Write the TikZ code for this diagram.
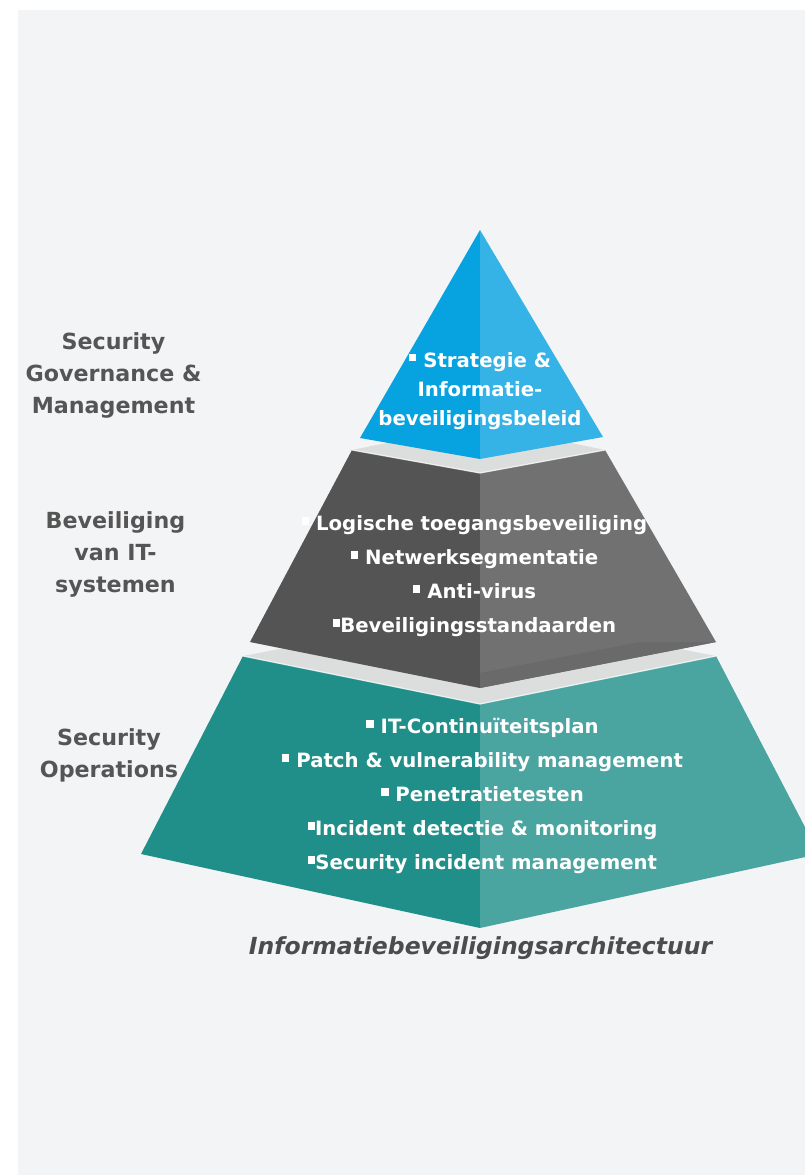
\documentclass[tikz,border=0pt]{standalone}
\usepackage{fontspec}
\setmainfont{DejaVu Sans}
\usetikzlibrary{positioning}

\definecolor{bgpanel}{HTML}{F3F4F6}
\definecolor{blueL}{HTML}{07A3E0}
\definecolor{blueR}{HTML}{35B3E6}
\definecolor{darkL}{HTML}{545454}
\definecolor{darkR}{HTML}{717171}
\definecolor{darkS}{HTML}{6A6A6A}
\definecolor{tealL}{HTML}{218F89}
\definecolor{tealR}{HTML}{4AA4A0}
\definecolor{faceG}{HTML}{DCDEDD}
\definecolor{labelG}{HTML}{555555}

\newcommand{\sq}{\rule[0.3em]{0.38em}{0.38em}}

\begin{document}
\begin{tikzpicture}[x=1pt,y=-1pt]

\tikzset{
	tiertext/.style={text=white, align=center, inner sep=0pt,
		font=\fontsize{19.7}{34}\selectfont\bfseries},
	sidelabel/.style={text=labelG, align=center, inner sep=0pt,
		font=\fontsize{22.2}{32}\selectfont\bfseries},
	face/.style={fill=faceG},
	rim/.style={draw=white, line width=1.2pt, draw opacity=0.8}
}

\useasboundingbox (0,0) rectangle (805,1175);
\clip (0,0) rectangle (805,1175);
\fill[bgpanel] (18,10) rectangle (805,1175);

% bottom tier
\fill[face] (243,656) -- (480,610) -- (716,656) -- (480,704) -- cycle;
\fill[tealL] (243,656) -- (480,704) -- (480,928) -- (141,854) -- cycle;
\fill[tealR] (480,704) -- (716,656) -- (819,854) -- (480,928) -- cycle;
\draw[rim] (243,656) -- (480,704) -- (716,656);

% middle tier
\fill[face] (352,450) -- (480,424) -- (605,450) -- (480,473) -- cycle;
\fill[darkL] (352,450) -- (480,473) -- (480,688) -- (250,642) -- cycle;
\fill[darkR] (480,473) -- (605,450) -- (716,642) -- (480,688) -- cycle;
\fill[darkS] (480,673) -- (640,642) -- (716,642) -- (480,688) -- cycle;
\draw[rim] (352,450) -- (480,473) -- (605,450);

% top tier
\fill[blueL] (480,230) -- (480,459) -- (360,438) -- cycle;
\fill[blueR] (480,230) -- (603,437) -- (480,459) -- cycle;

\node[tiertext, font=\fontsize{19.7}{29}\selectfont\bfseries] (strategy) at (480,391)
	{\sq\ Strategie \&\\ Informatie-\\ beveiligingsbeleid};
\node[tiertext] (systems) at (474.5,576.5)
	{\sq\ Logische toegangsbeveiliging\\ \sq\ Netwerksegmentatie\\
	 \sq\ Anti-virus\\ \sq Beveiligingsstandaarden};
\node[tiertext] (operations) at (482.5,796)
	{\sq\ IT-Continuïteitsplan\\ \sq\ Patch \& vulnerability management\\
	 \sq\ Penetratietesten\\ \sq Incident detectie \& monitoring\\
	 \sq Security incident management};

\node[sidelabel] (govlabel) at (113.5,375) {Security\\ Governance \&\\ Management};
\node[sidelabel] (syslabel) at (115.5,554) {Beveiliging\\ van IT-\\ systemen};
\node[sidelabel] (opslabel) at (109,755) {Security\\ Operations};

\node[text=labelG!90!black, inner sep=0pt,
	font=\fontsize{23.5}{28}\selectfont\bfseries\itshape] (title) at (480.5,948)
	{Informatiebeveiligingsarchitectuur};

\end{tikzpicture}
\end{document}
